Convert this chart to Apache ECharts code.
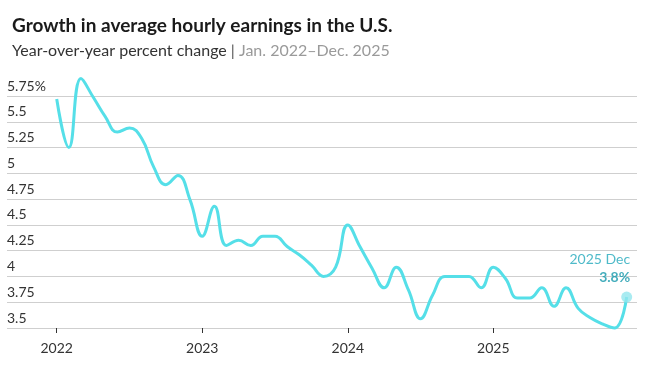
<!DOCTYPE html>
<html>
<head>
<meta charset="utf-8">
<script src="https://cdn.jsdelivr.net/npm/echarts@6/dist/echarts.min.js"></script>
<style>
html,body{margin:0;padding:0;background:#fff;}
#chart{width:649px;height:366px;}
</style>
</head>
<body>
<div id="chart"></div>
<script>
const months = ["2022 Jan","2022 Feb","2022 Mar","2022 Apr","2022 May","2022 Jun","2022 Jul","2022 Aug","2022 Sep","2022 Oct","2022 Nov","2022 Dec",
"2023 Jan","2023 Feb","2023 Mar","2023 Apr","2023 May","2023 Jun","2023 Jul","2023 Aug","2023 Sep","2023 Oct","2023 Nov","2023 Dec",
"2024 Jan","2024 Feb","2024 Mar","2024 Apr","2024 May","2024 Jun","2024 Jul","2024 Aug","2024 Sep","2024 Oct","2024 Nov","2024 Dec",
"2025 Jan","2025 Feb","2025 Mar","2025 Apr","2025 May","2025 Jun","2025 Jul","2025 Aug","2025 Sep","2025 Oct","2025 Nov","2025 Dec"];
const growth = [5.72,5.25,5.92,5.74,5.55,5.40,5.44,5.34,5.06,4.89,4.98,4.74,
4.39,4.68,4.30,4.35,4.30,4.39,4.39,4.29,4.21,4.11,4.00,4.09,
4.50,4.29,4.08,3.89,4.09,3.87,3.59,3.82,4.00,4.00,4.00,3.89,
4.09,3.98,3.79,3.79,3.89,3.71,3.89,3.69,3.60,3.54,3.50,3.80];
const yearTicks = [0,12,24,36];
const yearLabels = ["2022","2023","2024","2025"];
const lastLabel = "2025 Dec";
const lastValueText = "3.8%";

const FONT = "Lato";
const lineData = growth.map((v,i)=>[i,v]);
const last = lineData[lineData.length-1];

const chart = echarts.init(document.getElementById('chart'));
chart.setOption({
  animation:false,
  backgroundColor:'#fff',
  title:[{
    text:'Growth in average hourly earnings in the U.S.',
    left:7, top:11,
    textStyle:{fontFamily:FONT,fontSize:19,fontWeight:'bold',color:'#1a1a1a'}
  },{
    text:'{a|Year-over-year percent change} {b||} {c|Jan. 2022–Dec. 2025}',
    left:7, top:38,
    textStyle:{fontFamily:FONT,fontSize:16,fontWeight:'normal',rich:{
      a:{fontFamily:FONT,fontSize:16,fontWeight:'normal',color:'#333'},
      b:{fontFamily:FONT,fontSize:16,fontWeight:'normal',color:'#555'},
      c:{fontFamily:FONT,fontSize:16,fontWeight:'normal',color:'#9a9a9a'}
    }}
  }],
  grid:{left:7,right:12,top:96,bottom:38,containLabel:false},
  xAxis:{
    type:'value', min:-4.1, max:47.85,
    splitLine:{show:false},
    axisLine:{show:false},
    axisTick:{show:true,customValues:yearTicks,length:5,lineStyle:{color:'#333',width:1}},
    axisLabel:{customValues:yearTicks,margin:13,fontFamily:FONT,fontSize:14,color:'#333',
      formatter:(v)=>yearLabels[yearTicks.indexOf(Math.round(v))] || ''}
  },
  yAxis:{
    type:'value', min:3.5, max:5.75, interval:0.25,
    axisLine:{show:false}, axisTick:{show:false},
    splitLine:{lineStyle:{color:'#cfcfcf',width:1}},
    axisLabel:{inside:true,margin:0,align:'left',verticalAlign:'bottom',padding:[0,0,3,0],
      fontFamily:FONT,fontSize:14,color:'#333',
      formatter:(v)=>{const s=String(+v.toFixed(2)); return Math.abs(v-5.75)<1e-6 ? s+'%' : s;}}
  },
  series:[{
    type:'line', data:lineData, smooth:0.45, showSymbol:false, clip:false,
    lineStyle:{color:'#55dfe8',width:3}, z:2
  },{
    type:'scatter', data:[last], symbol:'circle', symbolSize:11, clip:false,
    itemStyle:{color:'#93e6ee'}, z:3,
    label:{show:true,position:[9,-5],align:'right',verticalAlign:'bottom',
      formatter:'{a|'+lastLabel+'}\n{b|'+lastValueText+'}',
      rich:{a:{fontFamily:FONT,fontSize:14,color:'#22a9bb',lineHeight:18,align:'right'},
            b:{fontFamily:FONT,fontSize:14,fontWeight:'bold',color:'#1599ab',lineHeight:18,align:'right'}}}
  }]
});
</script>
</body>
</html>
